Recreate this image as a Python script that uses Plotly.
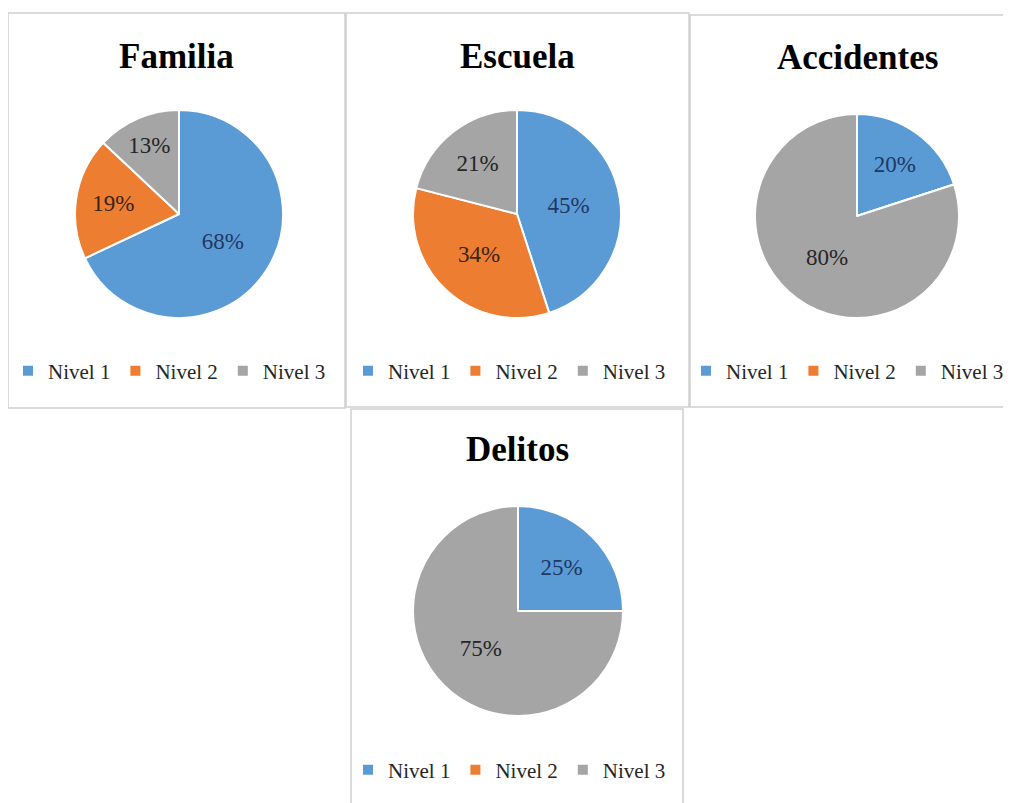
import plotly.graph_objects as go

W, H = 1011, 803
OFF = 8  # page body margin compensation

labels = ["Nivel 1", "Nivel 2", "Nivel 3"]
titles = ["Familia", "Escuela", "Accidentes", "Delitos"]
familia = [68, 19, 13]
escuela = [45, 34, 21]
accidentes = [20, 0, 80]
delitos = [25, 0, 75]
series = [familia, escuela, accidentes, delitos]

colors = ["#5B9BD5", "#ED7D31", "#A5A5A5"]
text_colors = ["#1F3864", "#3A2414", "#262626"]

# layout in pixels (layout only, not data)
panels = [(8, 13, 345, 408), (346, 13, 689, 407), (690, 15, 1025, 407), (351, 409, 683, 815)]
pies = [(179, 214, 104), (517, 214, 104), (857, 216, 102), (518, 611, 105)]
title_pos = [(176, 56), (517, 56), (857, 57), (517, 449)]
legend_pos = [(8, 371), (348, 371), (686, 371), (348, 770)]


def px(x):
    return (x - OFF) / W


def py(y):
    return 1 - (y - OFF) / H


fig = go.Figure()
shapes = []
annotations = []
for i, (vals, title) in enumerate(zip(series, titles)):
    cx, cy, r = pies[i]
    leg = "legend" if i == 0 else f"legend{i + 1}"
    fig.add_trace(go.Pie(
        labels=[lab + "\u200b" * i for lab in labels],
        values=vals,
        text=[f"{v}%" if v > 0 else "" for v in vals],
        textinfo="text",
        textposition="inside",
        insidetextorientation="horizontal",
        textfont=dict(family="Liberation Serif", size=23, color=text_colors),
        marker=dict(colors=colors, line=dict(color="white", width=2)),
        sort=False,
        direction="clockwise",
        rotation=0,
        hole=0,
        domain=dict(x=[px(cx - r), px(cx + r)], y=[py(cy + r), py(cy - r)]),
        legend=leg,
        showlegend=True,
        hoverinfo="label+percent",
        name=title,
    ))
    x0, y0, x1, y1 = panels[i]
    shapes.append(dict(type="rect", xref="paper", yref="paper",
                       x0=px(x0), x1=px(x1), y0=py(y1), y1=py(y0),
                       line=dict(color="#D0D0D0", width=1.5), fillcolor="rgba(0,0,0,0)",
                       layer="below"))
    tx, ty = title_pos[i]
    annotations.append(dict(text=f"<b>{title}</b>", x=px(tx), y=py(ty), xref="paper", yref="paper",
                            showarrow=False, xanchor="center", yanchor="middle",
                            font=dict(family="Liberation Serif", size=35, color="#000000")))

legend_common = dict(orientation="h", xanchor="left", yanchor="middle",
                     font=dict(family="Liberation Serif", size=21, color="#262626"),
                     bgcolor="rgba(0,0,0,0)", itemclick=False, itemdoubleclick=False)
layout_legends = {}
for i in range(4):
    lx, ly = legend_pos[i]
    key = "legend" if i == 0 else f"legend{i + 1}"
    layout_legends[key] = dict(x=px(lx), y=py(ly), **legend_common)

fig.update_layout(
    width=W, height=H,
    margin=dict(l=0, r=0, t=0, b=0),
    paper_bgcolor="white",
    plot_bgcolor="white",
    shapes=shapes,
    annotations=annotations,
    **layout_legends,
)

fig.write_html("out.html")
